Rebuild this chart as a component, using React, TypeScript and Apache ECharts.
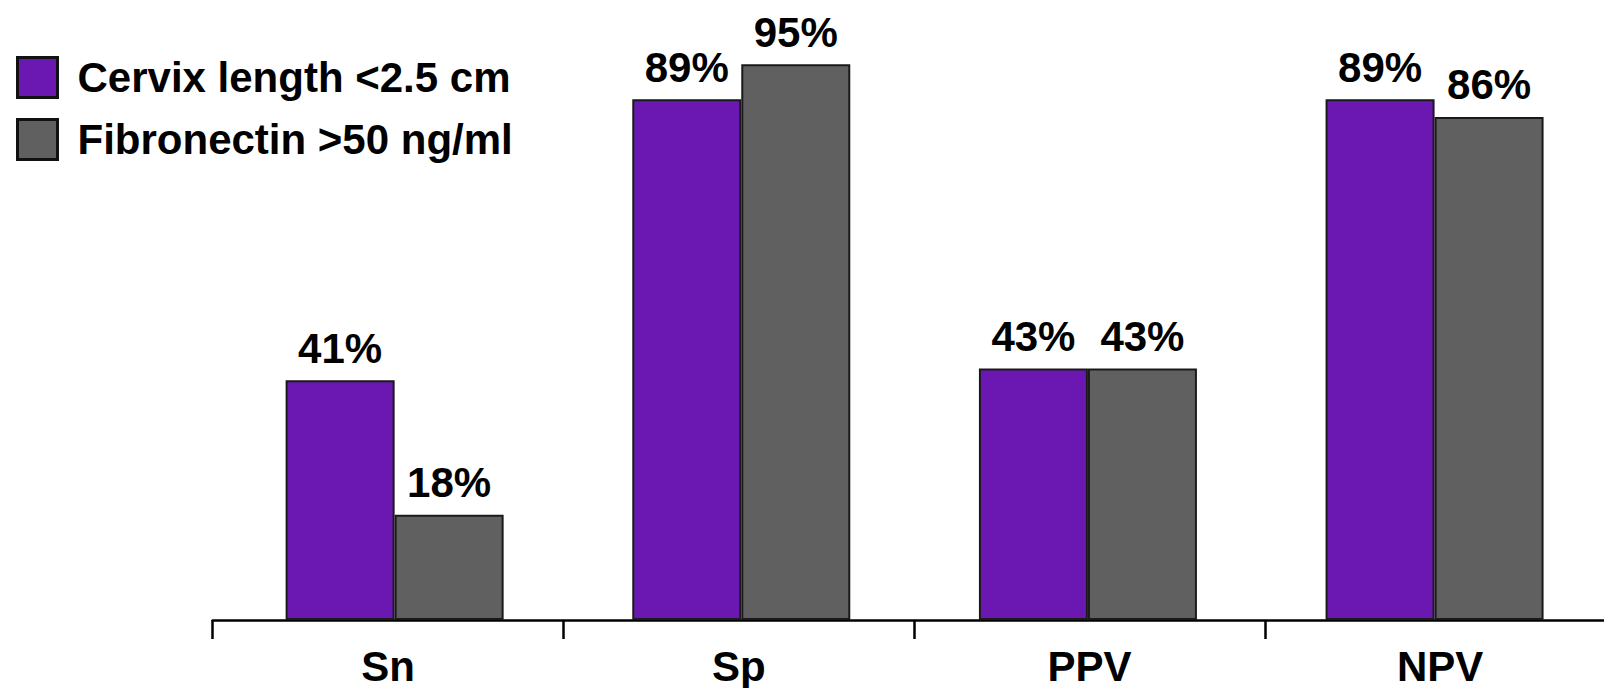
import React, { useEffect, useRef } from "react";
import * as echarts from "echarts";

const categories = ["Sn", "Sp", "PPV", "NPV"];
const cervixValues = [41, 89, 43, 89];
const fibronectinValues = [18, 95, 43, 86];
const seriesNames = ["Cervix length <2.5 cm", "Fibronectin >50 ng/ml"];

const FONT = "'Liberation Sans', Arial, sans-serif";

export default function App() {
  const ref = useRef<HTMLDivElement>(null);
  useEffect(() => {
    if (!ref.current) return;
    const chart = echarts.init(ref.current, undefined, { renderer: "svg" });
    const labelCfg = {
      show: true,
      position: "top",
      distance: 11,
      formatter: "{c}%",
      color: "#000",
      fontSize: 42,
      fontWeight: "bold",
      fontFamily: FONT,
    };
    chart.setOption({
      animation: false,
      backgroundColor: "#ffffff",
      grid: [
        { left: 221.3, right: 32.1, top: 35, bottom: 68 },
        { left: 212.7, right: 24.5, top: 35, bottom: 68 },
      ],
      legend: {
        orient: "vertical",
        left: 11,
        top: 51,
        itemWidth: 40,
        itemHeight: 40,
        itemGap: 19,
        icon: "rect",
        itemStyle: { borderColor: "#111", borderWidth: 3 },
        textStyle: {
          color: "#000",
          fontSize: 42,
          fontWeight: "bold",
          fontFamily: FONT,
          padding: [0, 0, 0, 15],
        },
        data: seriesNames,
      },
      xAxis: [
        {
          type: "category",
          gridIndex: 0,
          data: categories,
          show: false,
        },
        {
          type: "category",
          gridIndex: 1,
          data: categories,
          axisLine: { show: true, lineStyle: { color: "#000", width: 2.5 } },
          axisTick: { show: true, length: 19, lineStyle: { color: "#000", width: 2.5 } },
          axisLabel: {
            show: true,
            color: "#000",
            fontSize: 42,
            lineHeight: 40,
            fontWeight: "bold",
            fontFamily: FONT,
            margin: 26,
          },
        },
      ],
      yAxis: [
        { type: "value", gridIndex: 0, min: 0, max: 100, show: false, splitLine: { show: false } },
        { type: "value", gridIndex: 1, min: 0, max: 100, show: false, splitLine: { show: false } },
      ],
      series: [
        {
          name: seriesNames[0],
          type: "bar",
          xAxisIndex: 0,
          yAxisIndex: 0,
          data: cervixValues,
          barWidth: 109,
          barGap: "0%",
          itemStyle: { color: "#6b18b3", borderColor: "#1a1a1a", borderWidth: 2 },
          label: labelCfg,
        },
        {
          name: seriesNames[1],
          type: "bar",
          xAxisIndex: 0,
          yAxisIndex: 0,
          data: fibronectinValues,
          barWidth: 109,
          barGap: "0%",
          itemStyle: { color: "#606060", borderColor: "#1a1a1a", borderWidth: 2 },
          label: labelCfg,
        },
      ],
    });
    return () => chart.dispose();
  }, []);
  return (
    <div
      style={{
        position: "fixed",
        left: 0,
        top: 0,
        width: 1604,
        height: 688,
        overflow: "hidden",
        background: "#fff",
      }}
    >
      <div ref={ref} style={{ width: 1640, height: 688 }} />
    </div>
  );
}
